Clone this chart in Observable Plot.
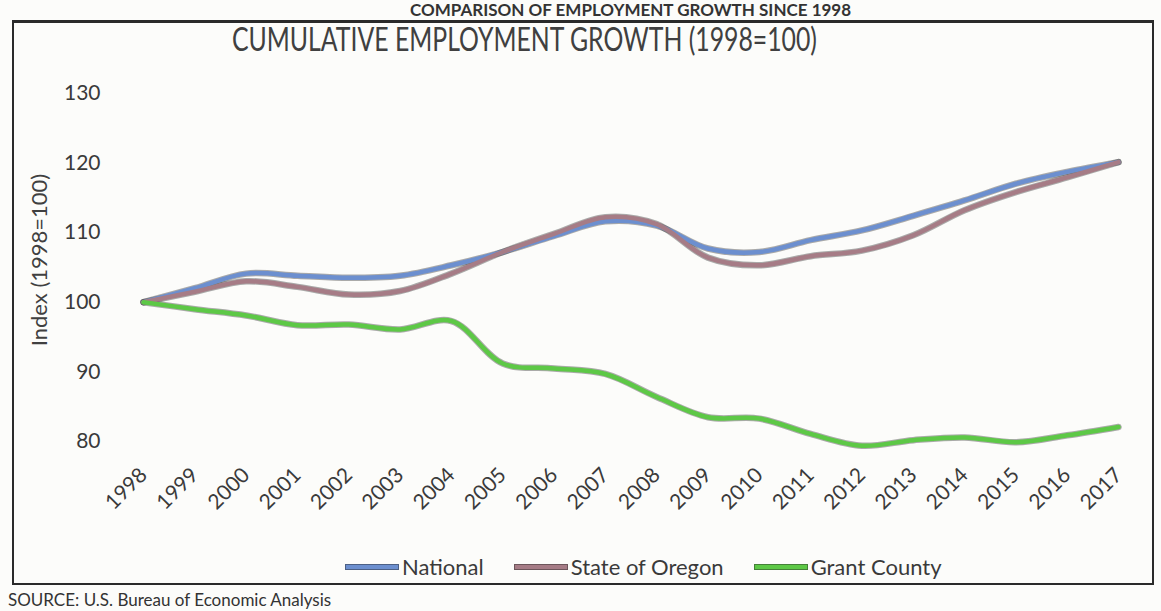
<!DOCTYPE html>
<html>
<head>
<meta charset="utf-8">
<script src="https://cdn.jsdelivr.net/npm/d3@7"></script>
<script src="https://cdn.jsdelivr.net/npm/@observablehq/plot@0.6"></script>
<style>
  html, body { margin: 0; padding: 0; background: #fcfcfa; }
  #wrap { position: relative; width: 1161px; height: 611px; overflow: hidden; font-family: Lato, "Open Sans", sans-serif; color: #3a3a3a; }
  #frame { position: absolute; left: 12px; top: 20px; width: 1142px; height: 565px; border: 2px solid #2a2a2a; border-top-width: 3px; box-sizing: border-box; }
  #header { position: absolute; top: 1px; left: 410px; font-weight: bold; font-size: 17px; line-height: 18px; color: #333; white-space: nowrap; }
  #title { position: absolute; top: 18px; left: 232px; font-size: 33px; color: #404040; white-space: nowrap; transform-origin: 0 0; }
  #ylabel { position: absolute; left: 38px; top: 260px; font-size: 22px; color: #404040; white-space: nowrap; transform: translate(-50%, -50%) rotate(-90deg); }
  #chart { position: absolute; left: 0; top: 0; }
  #legend { position: absolute; top: 553px; left: 345px; display: flex; align-items: center; font-size: 22px; color: #3a3a3a; white-space: nowrap; }
  .item { display: flex; align-items: center; margin-right: 30px; }
  .sw { width: 52px; height: 4px; margin-right: 3px; border: 1px solid rgba(40,40,40,0.45); }
  #source { position: absolute; left: 8px; top: 590px; font-size: 17px; line-height: 20px; color: #333; white-space: nowrap; }
</style>
</head>
<body>
<div id="wrap">
  <div id="frame"></div>
  <div id="header">COMPARISON OF EMPLOYMENT GROWTH SINCE 1998</div>
  <div id="title">CUMULATIVE EMPLOYMENT GROWTH (1998=100)</div>
  <div id="ylabel">Index (1998=100)</div>
  <div id="chart"></div>
  <div id="legend"></div>
  <div id="source">SOURCE: U.S. Bureau of Economic Analysis</div>
</div>
<script>
const years = [1998,1999,2000,2001,2002,2003,2004,2005,2006,2007,2008,2009,2010,2011,2012,2013,2014,2015,2016,2017];
const national = [100,102.0,104.1,103.8,103.5,103.8,105.3,107.2,109.5,111.6,111.0,107.7,107.2,108.9,110.3,112.4,114.6,117.0,118.7,120.1];
const oregon   = [100,101.5,103.0,102.2,101.1,101.6,104.1,107.2,109.8,112.2,111.2,106.4,105.3,106.6,107.4,109.6,113.2,115.8,117.9,120.1];
const grant    = [100,99.0,98.1,96.7,96.8,96.1,97.3,91.2,90.5,89.7,86.4,83.5,83.3,81.1,79.4,80.2,80.6,79.9,80.9,82.1];
const seriesNames = ["National","State of Oregon","Grant County"];
const seriesColors = ["#6c8fcf","#a67c86","#5dc846"];
const yTicks = [80,90,100,110,120,130];

const rows = [];
[national, oregon, grant].forEach((vals, s) => {
  years.forEach((yr, i) => rows.push({year: yr, value: vals[i], series: seriesNames[s]}));
});

const chart = Plot.plot({
  width: 1161,
  height: 530,
  marginLeft: 143,
  marginRight: 43,
  marginTop: 92.6,
  marginBottom: 68,
  style: {background: "transparent", fontFamily: "Lato, 'Open Sans', sans-serif", fontSize: "20px", color: "#3a3a3a", overflow: "visible"},
  x: {domain: [1998, 2017]},
  y: {domain: [77, 130]},
  color: {domain: seriesNames, range: seriesColors},
  marks: [
    Plot.axisY({ticks: yTicks, tickSize: 0, tickPadding: 43, label: null, fontSize: 21}),
    Plot.axisX({ticks: years, tickFormat: d => String(d), tickRotate: -45, tickSize: 0, tickPadding: 9, label: null, fontSize: 21}),
    Plot.line(rows, {x: "year", y: "value", z: "series", stroke: "#303030", strokeWidth: 6.5, strokeOpacity: 0.4, curve: "catmull-rom"}),
    Plot.line(rows, {x: "year", y: "value", z: "series", stroke: "series", strokeWidth: 4.5, curve: "catmull-rom"})
  ]
});
document.getElementById("chart").appendChild(chart);

// legend
const legend = document.getElementById("legend");
seriesNames.forEach((name, i) => {
  const item = document.createElement("div");
  item.className = "item";
  const sw = document.createElement("span");
  sw.className = "sw";
  sw.style.background = seriesColors[i];
  const t = document.createElement("span");
  t.textContent = name;
  item.appendChild(sw); item.appendChild(t);
  legend.appendChild(item);
});

// fit title width like the condensed original
const title = document.getElementById("title");
const w = title.getBoundingClientRect().width;
title.style.transform = `scaleX(${585 / w})`;
</script>
</body>
</html>
